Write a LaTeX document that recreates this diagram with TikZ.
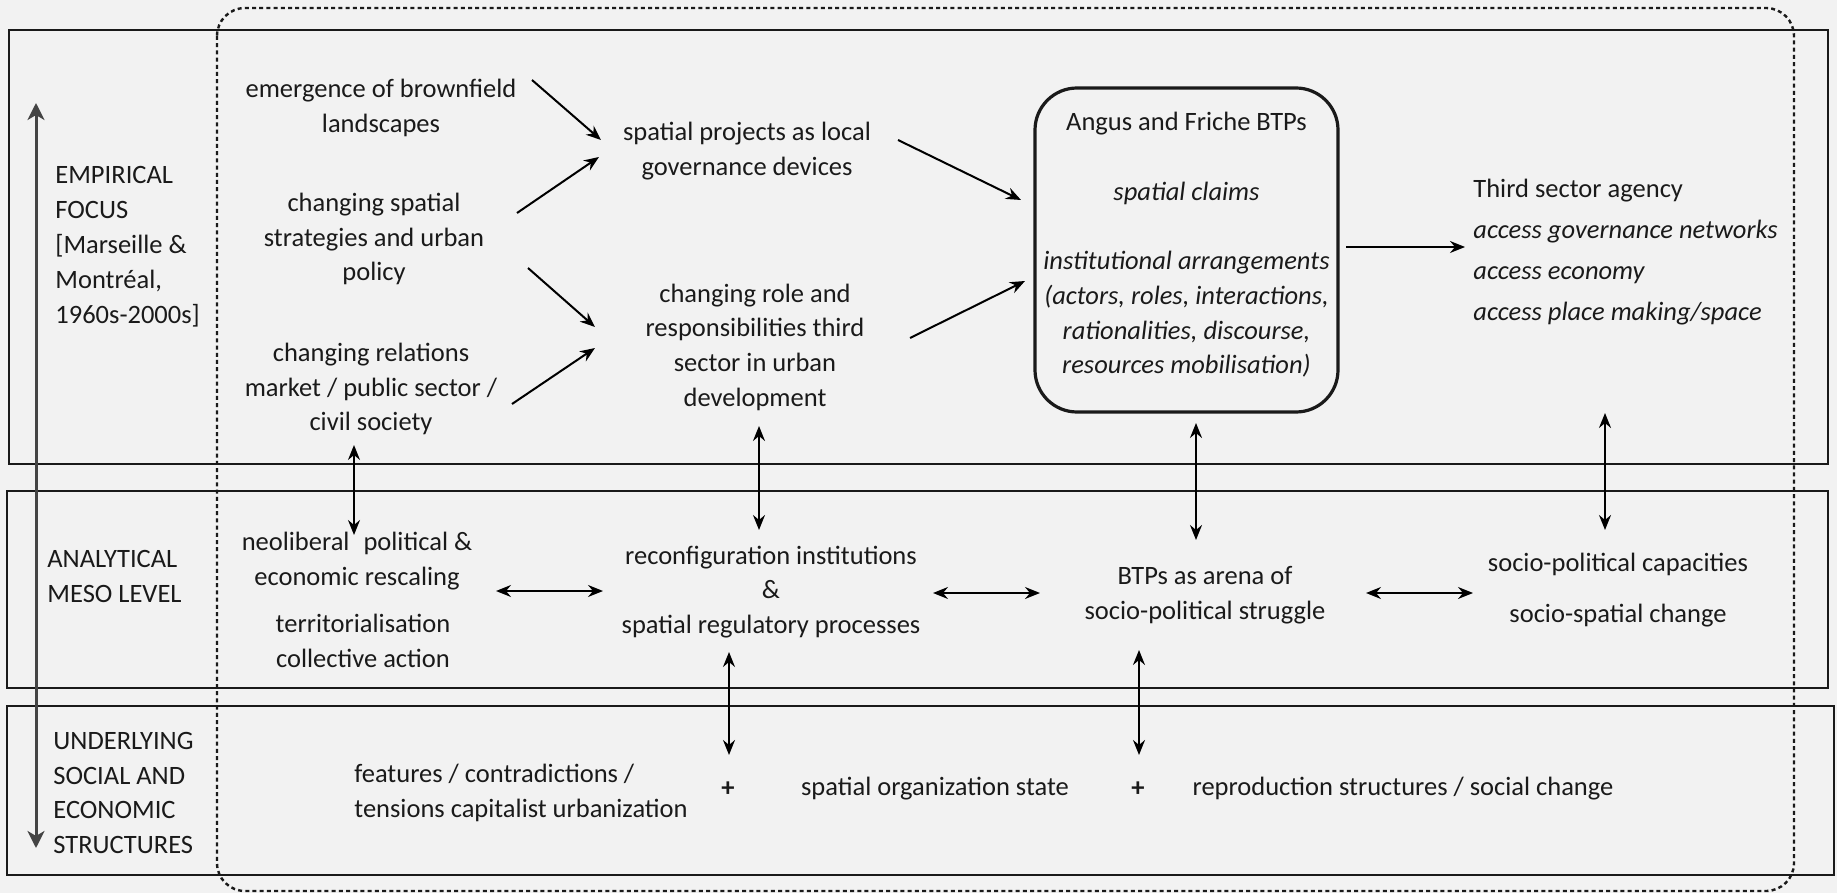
\documentclass[tikz,border=0pt]{standalone}
\usepackage{fontspec}
\setmainfont{Carlito}
\usetikzlibrary{arrows.meta}
\definecolor{bg}{HTML}{F2F2F2}
\definecolor{axisgray}{HTML}{444444}
\definecolor{ink}{HTML}{1A1A1A}
\begin{document}
\begin{tikzpicture}[x=0.5pt,y=-0.5pt,
  txt/.style={font=\fontsize{13.25}{17.35}\selectfont, inner sep=0pt, align=center, text=ink},
  ltxt/.style={txt, align=left},
  band/.style={draw=ink, line width=1pt},
  dashbox/.style={draw=ink, line width=1.2pt, dash pattern=on 2pt off 1.6pt, rounded corners=14pt},
  rbox/.style={draw=ink, line width=1.6pt, rounded corners=21pt, minimum width=151.5pt, minimum height=162pt, inner sep=0pt},
  arr/.style={draw=black, line width=1pt, -{Stealth[length=7.5pt,width=6pt,inset=2.5pt]}},
  darr/.style={draw=black, line width=1pt, {Stealth[length=7.5pt,width=6pt,inset=2.5pt]}-{Stealth[length=7.5pt,width=6pt,inset=2.5pt]}},
  axisarr/.style={draw=axisgray, line width=1.5pt, {Stealth[length=8.5pt,width=8.5pt,inset=2.5pt]}-{Stealth[length=8.5pt,width=8.5pt,inset=2.5pt]}}
]
\useasboundingbox (0,0) rectangle (1837,893);
\fill[bg] (0,0) rectangle (1837,893);

% bands
\draw[band] (9,30) rectangle (1828,464);
\draw[band] (7,491) rectangle (1828,688);
\draw[band] (7,706) rectangle (1834,875);
% dashed frame
\draw[dashbox] (217,8) rectangle (1794,891);

% left labels
\node[ltxt, anchor=west, font=\fontsize{13.25}{17.5}\selectfont] (emp) at (55,247) {EMPIRICAL\\FOCUS\\{[}Marseille \&\\Montréal,\\1960s-2000s{]}};
\node[ltxt, anchor=west, font=\fontsize{13.25}{17.5}\selectfont] (ana) at (47,576) {ANALYTICAL\\MESO LEVEL};
\node[ltxt, anchor=west, font=\fontsize{13.25}{17.25}\selectfont] (und) at (53,793) {UNDERLYING\\SOCIAL AND\\ECONOMIC\\STRUCTURES};

% top section
\node[txt] (brown) at (381,108) {emergence of brownfield\\landscapes};
\node[txt] (strat) at (374,239) {changing spatial\\strategies and urban\\policy};
\node[txt] (rel) at (371,389) {changing relations\\market / public sector /\\civil society};
\node[txt] (proj) at (747,151) {spatial projects as local\\governance devices};
\node[txt] (role) at (755,347) {changing role and\\responsibilities third\\sector in urban\\development};
\node[rbox] (btp) at (1186.5,250) {};
\node[txt] (btptext) at (1186.5,245) {Angus and Friche BTPs\\[17.35pt]\textit{spatial claims}\\[17.35pt]\textit{institutional arrangements}\\\textit{(actors, roles, interactions,}\\\textit{rationalities, discourse,}\\\textit{resources mobilisation)}};
\node[ltxt, anchor=west, font=\fontsize{13.25}{20.6}\selectfont] (third) at (1473,252) {Third sector agency\\\textit{access governance networks}\\\textit{access economy}\\\textit{access place making/space}};

% middle section
\node[txt] (neo) at (357,561) {neoliberal\hspace{7pt}political \&\\economic rescaling};
\node[txt] (terr) at (363,641) {territorialisation\\collective action};
\node[txt] (reconf) at (771,592) {reconfiguration institutions\\\&\\spatial regulatory processes};
\node[txt] (arena) at (1205,595) {BTPs as arena of\\socio-political struggle};
\node[txt] (capac) at (1618,590) {socio-political capacities\\[8.1pt]socio-spatial change};

% bottom section
\node[ltxt, anchor=west] (feat) at (354,793) {features / contradictions /\\tensions capitalist urbanization};
\node[txt] (plus1) at (728,789) {\textbf{+}};
\node[txt] (spat) at (935,789) {spatial organization state};
\node[txt] (plus2) at (1138,789) {\textbf{+}};
\node[txt] (repro) at (1403,789) {reproduction structures / social change};

% connector end points
\coordinate (a1s) at (532,80);   \coordinate (a1e) at (601,140);
\coordinate (a2s) at (517,213);  \coordinate (a2e) at (599,157);
\coordinate (a3s) at (528,268);  \coordinate (a3e) at (595,327);
\coordinate (a4s) at (512,404);  \coordinate (a4e) at (595,348);
\coordinate (a5s) at (898,140);  \coordinate (a5e) at (1021,200);
\coordinate (a6s) at (910,338);  \coordinate (a6e) at (1025,281);
\coordinate (a7s) at (1346,247); \coordinate (a7e) at (1465,247);
\coordinate (v1s) at (354,445);  \coordinate (v1e) at (354,535);
\coordinate (v2s) at (759,426);  \coordinate (v2e) at (759,530);
\coordinate (v3s) at (1196,423); \coordinate (v3e) at (1196,540);
\coordinate (v4s) at (1605,413); \coordinate (v4e) at (1605,530);
\coordinate (h1s) at (496,591);  \coordinate (h1e) at (603,591);
\coordinate (h2s) at (933,593);  \coordinate (h2e) at (1040,593);
\coordinate (h3s) at (1366,593); \coordinate (h3e) at (1473,593);
\coordinate (w1s) at (729,652);  \coordinate (w1e) at (729,755);
\coordinate (w2s) at (1139,650); \coordinate (w2e) at (1139,755);
\coordinate (axtop) at (36,103); \coordinate (axbot) at (36,848);

% connectors
\draw[arr] (a1s) -- (a1e);
\draw[arr] (a2s) -- (a2e);
\draw[arr] (a3s) -- (a3e);
\draw[arr] (a4s) -- (a4e);
\draw[arr] (a5s) -- (a5e);
\draw[arr] (a6s) -- (a6e);
\draw[arr] (a7s) -- (a7e);
\draw[darr] (v1s) -- (v1e);
\draw[darr] (v2s) -- (v2e);
\draw[darr] (v3s) -- (v3e);
\draw[darr] (v4s) -- (v4e);
\draw[darr] (h1s) -- (h1e);
\draw[darr] (h2s) -- (h2e);
\draw[darr] (h3s) -- (h3e);
\draw[darr] (w1s) -- (w1e);
\draw[darr] (w2s) -- (w2e);
\draw[axisarr] (axtop) -- (axbot);
\end{tikzpicture}
\end{document}
